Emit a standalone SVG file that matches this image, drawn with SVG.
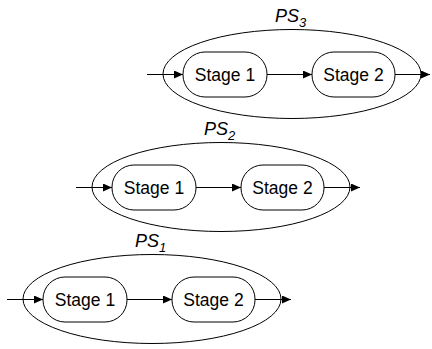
<svg xmlns="http://www.w3.org/2000/svg" width="432" height="349" viewBox="0 0 432 349">
<style>
.ell{fill:none;stroke:#000;stroke-width:1}
.box{fill:#fff;stroke:#000;stroke-width:1}
.lbl{font-family:"Liberation Sans",Arial,sans-serif;font-size:17.5px;fill:#000}
.ps{font-family:"Liberation Sans",Arial,sans-serif;font-size:18px;font-style:italic;fill:#000}
.sub{font-size:13px}
.con{fill:none;stroke:#000;stroke-width:1;marker-end:url(#ah)}
</style>
<defs>
<marker id="ah" markerWidth="9" markerHeight="8" refX="9" refY="4" orient="auto" markerUnits="userSpaceOnUse">
<path d="M0,0 L9,4 L0,8 Z" fill="#000"/>
</marker>
</defs>
<g id="ps3" transform="translate(140,-225)">
<ellipse class="ell" cx="152" cy="299" rx="129" ry="44.5"/>
<text class="ps" x="135" y="246.5">PS<tspan class="sub" dy="5">3</tspan></text>
<g id="ps3-stage1"><rect class="box" x="43" y="277" width="84" height="45" rx="22"/><text class="lbl" x="85" y="305.5" text-anchor="middle">Stage 1</text></g>
<g id="ps3-stage2"><rect class="box" x="172" y="277" width="83" height="45" rx="22"/><text class="lbl" x="213.5" y="305.5" text-anchor="middle">Stage 2</text></g>
</g>
<g id="ps2" transform="translate(69,-112)">
<ellipse class="ell" cx="152" cy="299" rx="129" ry="44.5"/>
<text class="ps" x="135" y="246.5">PS<tspan class="sub" dy="5">2</tspan></text>
<g id="ps2-stage1"><rect class="box" x="43" y="277" width="84" height="45" rx="22"/><text class="lbl" x="85" y="305.5" text-anchor="middle">Stage 1</text></g>
<g id="ps2-stage2"><rect class="box" x="172" y="277" width="83" height="45" rx="22"/><text class="lbl" x="213.5" y="305.5" text-anchor="middle">Stage 2</text></g>
</g>
<g id="ps1">
<ellipse class="ell" cx="152" cy="299" rx="129" ry="44.5"/>
<text class="ps" x="135" y="246.5">PS<tspan class="sub" dy="5">1</tspan></text>
<g id="ps1-stage1"><rect class="box" x="43" y="277" width="84" height="45" rx="22"/><text class="lbl" x="85" y="305.5" text-anchor="middle">Stage 1</text></g>
<g id="ps1-stage2"><rect class="box" x="172" y="277" width="83" height="45" rx="22"/><text class="lbl" x="213.5" y="305.5" text-anchor="middle">Stage 2</text></g>
</g>
<g id="connectors">
<path class="con" d="M147,74.5 H183"/>
<path class="con" d="M267,74.5 H312"/>
<path class="con" d="M395,74.5 H430"/>
<path class="con" d="M76,187.5 H112"/>
<path class="con" d="M196,187.5 H241"/>
<path class="con" d="M324,187.5 H360"/>
<path class="con" d="M7,299.5 H43"/>
<path class="con" d="M127,299.5 H172"/>
<path class="con" d="M255,299.5 H291"/>
</g>
</svg>
